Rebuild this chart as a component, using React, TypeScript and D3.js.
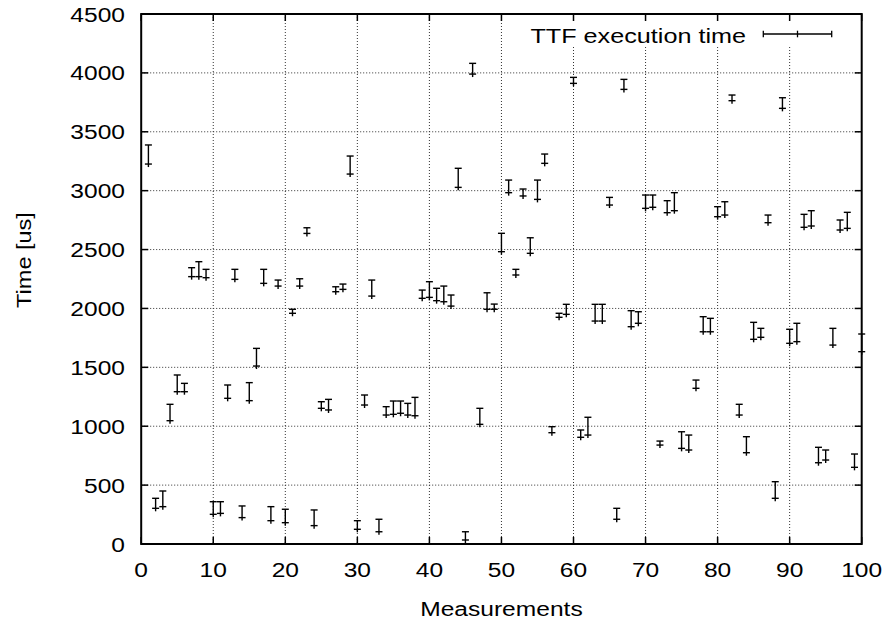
import React from "react";
import * as d3 from "d3";

const measurements = d3.range(1, 101);
const times = [
  3226, 303, 317, 1047, 1293, 1293, 2270, 2270, 2261, 252,
  260, 1237, 2247, 224, 1217, 1511, 2213, 198, 2190, 181,
  1959, 2190, 2637, 156, 1152, 1138, 2142, 2162, 3141, 125,
  1180, 2105, 104, 1095, 1101, 1110, 1095, 1089, 2086, 2094,
  2066, 2057, 2020, 3028, 34, 3990, 1016, 1993, 1993, 2482,
  2983, 2284, 2955, 2468, 2926, 3232, 945, 1925, 1950, 3911,
  906, 925, 1893, 1893, 2878, 210, 3860, 1845, 1874, 2850,
  2859, 840, 2813, 2830, 812, 798, 1322, 1802, 1802, 2779,
  2793, 3764, 1095, 775, 1738, 1755, 2728, 388, 3699, 1704,
  1718, 2689, 2700, 690, 713, 1689, 2666, 2680, 651, 1633,
];
const maxTimes = [
  3388, 388, 450, 1186, 1435, 1364, 2346, 2397, 2332, 359,
  359, 1350, 2332, 323, 1370, 1661, 2332, 317, 2241, 295,
  1993, 2252, 2685, 289, 1208, 1228, 2184, 2207, 3294, 198,
  1265, 2241, 210, 1166, 1214, 1214, 1194, 1245, 2156, 2227,
  2171, 2190, 2114, 3190, 104, 4081, 1152, 2133, 2037, 2638,
  3090, 2332, 3014, 2600, 3090, 3311, 996, 1959, 2035, 3962,
  968, 1076, 2035, 2035, 2943, 303, 3945, 1981, 1972, 2963,
  2963, 874, 2915, 2983, 953, 925, 1392, 1930, 1916, 2864,
  2906, 3812, 1186, 911, 1882, 1831, 2793, 529, 3789, 1823,
  1874, 2799, 2830, 821, 798, 1831, 2751, 2816, 764, 1783,
];
const xTicks = [0, 10, 20, 30, 40, 50, 60, 70, 80, 90, 100];
const yTicks = [0, 500, 1000, 1500, 2000, 2500, 3000, 3500, 4000, 4500];
const seriesLabel = "TTF execution time";
const xLabel = "Measurements";
const yLabel = "Time [us]";

const W = 891;
const H = 623;
const L = 141.2, R = 861.7, T = 14, B = 544;
const FONT = "'Liberation Sans', Arial, Helvetica, sans-serif";
const FS = 21;
const SX = 1.17;

function SText({ x, y, anchor, children, rotate = 0, sx = SX }: any) {
  return (
    <text
      transform={`translate(${x},${y}) rotate(${rotate}) scale(${sx},1)`}
      textAnchor={anchor}
      fontFamily={FONT}
      fontSize={FS}
      fill="#000"
    >
      {children}
    </text>
  );
}

export default function App() {
  const x = d3.scaleLinear().domain([0, 100]).range([L, R]);
  const y = d3.scaleLinear().domain([0, 4500]).range([B, T]);
  const cap = 3.5;
  const tick = 7;
  const data = measurements.map((m, i) => ({ m, v: times[i], hi: maxTimes[i] }));

  return (
    <div style={{ position: "absolute", left: 0, top: 0 }}>
      <svg width={W} height={H} style={{ display: "block", background: "#fff" }}>
        <rect width={W} height={H} fill="#fff" />
        {/* grid */}
        <g stroke="#000" strokeWidth={1} strokeDasharray="1 2" opacity={0.8}>
          {xTicks.slice(1, -1).map((t) => (
            <line key={"gx" + t} x1={x(t)} x2={x(t)} y1={T} y2={B} />
          ))}
          {yTicks.slice(1, -1).map((t) => (
            <line key={"gy" + t} x1={L} x2={R} y1={y(t)} y2={y(t)} />
          ))}
        </g>
        {/* legend background */}
        <rect x={515} y={T + 1} width={R - 516} height={32} fill="#fff" />
        {/* error bars */}
        <g stroke="#000" strokeWidth={1.4} fill="none">
          {data.map((d) => {
            const cx = x(d.m);
            const cy = y(d.v);
            const ty = y(d.hi);
            return (
              <g key={d.m}>
                <line x1={cx} x2={cx} y1={ty} y2={cy + 3} />
                <line x1={cx - cap} x2={cx + cap} y1={ty} y2={ty} />
                <line x1={cx - cap} x2={cx + cap} y1={cy} y2={cy} />
              </g>
            );
          })}
        </g>
        {/* ticks */}
        <g stroke="#000" strokeWidth={1.5}>
          {xTicks.map((t) => (
            <g key={"tx" + t}>
              <line x1={x(t)} x2={x(t)} y1={B} y2={B - tick} />
              <line x1={x(t)} x2={x(t)} y1={T} y2={T + tick} />
            </g>
          ))}
          {yTicks.map((t) => (
            <g key={"ty" + t}>
              <line x1={L} x2={L + tick} y1={y(t)} y2={y(t)} />
              <line x1={R} x2={R - tick} y1={y(t)} y2={y(t)} />
            </g>
          ))}
        </g>
        {/* border */}
        <rect x={L} y={T} width={R - L} height={B - T} fill="none" stroke="#000" strokeWidth={2} />
        {/* tick labels */}
        {xTicks.map((t) => (
          <SText key={"lx" + t} x={x(t)} y={577} anchor="middle">{t}</SText>
        ))}
        {yTicks.map((t) => (
          <SText key={"ly" + t} x={125} y={y(t) + 7.5} anchor="end">{t}</SText>
        ))}
        {/* axis labels */}
        <SText x={(L + R) / 2} y={616} anchor="middle">{xLabel}</SText>
        <SText x={31} y={260} anchor="middle" rotate={-90} sx={1.12}>{yLabel}</SText>
        {/* legend */}
        <SText x={746} y={42.5} anchor="end" sx={1.2}>{seriesLabel}</SText>
        <g stroke="#000" strokeWidth={1.3}>
          <line x1={763.3} x2={831.7} y1={34} y2={34} />
          <line x1={763.3} x2={763.3} y1={30.7} y2={37.3} />
          <line x1={831.7} x2={831.7} y1={30.7} y2={37.3} />
          <line x1={797.5} x2={797.5} y1={30.7} y2={37.3} />
        </g>
      </svg>
    </div>
  );
}
